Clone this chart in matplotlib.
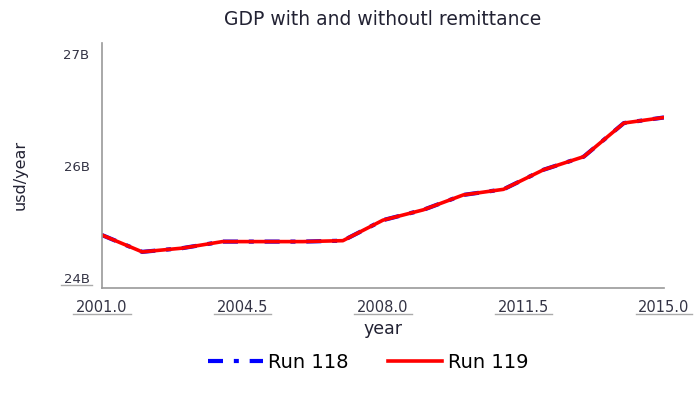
import numpy as np
from matplotlib import pyplot as plt
from matplotlib.lines import Line2D

plt.rcParams['font.family'] = ['DejaVu Sans']

years = [2001, 2002, 2003, 2004, 2005, 2006, 2007, 2008,
         2009, 2010, 2011, 2012, 2013, 2014, 2015]
# GDP in billions usd/year
run118 = [24.86, 24.68, 24.72, 24.79, 24.79, 24.79, 24.80, 25.02,
          25.13, 25.29, 25.35, 25.56, 25.70, 26.06, 26.12]
run119 = [24.86, 24.68, 24.72, 24.79, 24.79, 24.79, 24.80, 25.02,
          25.13, 25.29, 25.35, 25.56, 25.70, 26.06, 26.12]
xticks = [2001.0, 2004.5, 2008.0, 2011.5, 2015.0]
xtick_labels = ['2001.0', '2004.5', '2008.0', '2011.5', '2015.0']
yticks = [24.4, 25.6, 26.8]
ytick_labels = ['24B', '26B', '27B']

fig = plt.figure(figsize=(6.95, 3.95), dpi=100)
ax = fig.add_axes([0.1468, 0.2709, 0.8086, 0.6203])

ax.plot(years, run118, color='blue', lw=3, ls=(0, (3.6, 2.6, 1.2, 2.6)), label='Run 118')
ax.plot(years, run119, color='red', lw=2.6, label='Run 119')

ax.set_xlim(2001, 2015)
ax.set_ylim(24.293, 26.918)
ax.set_xticks(xticks)
ax.set_xticklabels(xtick_labels, fontsize=10.5, color='#333344')
ax.set_yticks(yticks)
ax.set_yticklabels(ytick_labels, fontsize=9.5, color='#333344')
ax.tick_params(axis='x', length=0, pad=9)
ax.tick_params(axis='y', length=0, pad=9)
for s in ['top', 'right']:
    ax.spines[s].set_visible(False)
for s in ['left', 'bottom']:
    ax.spines[s].set_color('#999999')
    ax.spines[s].set_linewidth(1.2)

ax.set_title('GDP with and withoutl remittance', fontsize=13.5, pad=13, color='#222233')
ax.set_xlabel('year', fontsize=12.5, labelpad=3, color='#222233')
ax.set_ylabel('usd/year', fontsize=11.5, color='#222233')
ax.yaxis.set_label_coords(-0.133, 0.46)

fig.legend(loc='center', bbox_to_anchor=(0.53, 0.082), ncol=2,
           frameon=False, fontsize=14, handlelength=2.8,
           columnspacing=2.0, handletextpad=0.3)

# underline the tick labels like the reference
fig.canvas.draw()
r = fig.canvas.get_renderer()
labs = list(ax.get_xticklabels()) + [ax.get_yticklabels()[0]]
for lab in labs:
    bb = lab.get_window_extent(r).transformed(fig.transFigure.inverted())
    y = bb.y0 + 0.003
    fig.add_artist(Line2D([bb.x0 - 0.004, bb.x1 + 0.004], [y, y],
                          color='#aaaaaa', lw=1.0))

fig.savefig('out.png', dpi=100)
